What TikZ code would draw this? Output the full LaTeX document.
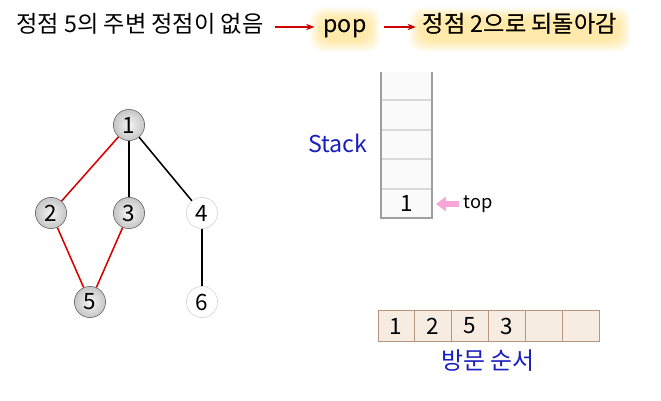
\documentclass[tikz,border=0pt]{standalone}
\usepackage{fontspec}
\setmainfont{Noto Sans CJK KR}
\usepackage{xcolor}
\usetikzlibrary{shapes, arrows.meta, positioning, calc}
\definecolor{lblblue}{RGB}{25,30,190}
\definecolor{boxfill}{RGB}{246,236,226}
\definecolor{boxline}{RGB}{180,150,125}
\definecolor{glow}{RGB}{255,200,40}

\begin{document}
\begin{tikzpicture}[x=0.025cm, y=-0.025cm,
  txt/.style={font=\fontsize{16.5}{19}\selectfont, inner sep=2pt, text height=12pt, text depth=4pt},
  vtx/.style={circle, draw=gray!75!black, inner color=gray!8, outer color=gray!45, minimum size=0.78cm, inner sep=0pt, font=\fontsize{16}{16}\selectfont},
  newvtx/.style={vtx, draw=gray!35, inner color=white, outer color=white},
  redline/.style={red!85!black, line width=1.1pt},
  blackline/.style={black, line width=1.1pt},
  ordbox/.style={draw=boxline, fill=boxfill, minimum width=0.91cm, minimum height=0.78cm, inner sep=0pt, font=\fontsize{16}{16}\selectfont}
]
\useasboundingbox (0,0) rectangle (661,400);

% Header line
\node[txt] (msg) at (140,27) {정점 5의 주변 정점이 없음};
\node[txt] (pop) at (345,27) {pop};
\node[txt] (back) at (520,27) {정점 2으로 되돌아감};
\foreach \n in {pop, back} {
  \foreach \d in {0,2,4,6,8,10} {
    \fill[glow, opacity=0.08, rounded corners=8pt] ($(\n.south west)+(-\d,\d)$) rectangle ($(\n.north east)+(\d,-\d+5)$);
  }
}
\node[txt] at (pop) {pop};
\node[txt] at (back) {정점 2으로 되돌아감};
\draw[-{Stealth[length=6pt]}, red!80!black, line width=0.9pt] ($(msg.east)+(8,0)$) -- ($(pop.west)+(-6,0)$);
\draw[-{Stealth[length=6pt]}, red!80!black, line width=0.9pt] ($(pop.east)+(14,0)$) -- ($(back.west)+(-4,0)$);

% Graph
\node[vtx] (v1) at (129,125) {1};
\node[vtx] (v2) at (51,213) {2};
\node[vtx] (v3) at (129,213) {3};
\node[newvtx] (v4) at (202,213) {4};
\node[vtx] (v5) at (90,302) {5};
\node[newvtx] (v6) at (202,302) {6};
\draw[redline] (v1) -- (v2);
\draw[blackline] (v1) -- (v3);
\draw[blackline] (v1) -- (v4);
\draw[redline] (v2) -- (v5);
\draw[redline] (v3) -- (v5);
\draw[blackline] (v4) -- (v6);

% Stack
\fill[gray!4] (381,72) rectangle (432,218);
\foreach \y in {100,130,159,189} {
  \draw[gray!30, line width=0.8pt] (381,\y) -- (432,\y);
}
\draw[gray!75, line width=1.2pt] (381,72) -- (381,218) -- (432,218) -- (432,72);
\node[font=\fontsize{16}{16}\selectfont] (s1) at (406.5,203.5) {1};
\node[font=\fontsize{16.5}{19}\selectfont, text=lblblue] (stacklbl) at (338,143) {Stack};
\node[font=\fontsize{13}{15}\selectfont] (toplbl) at (478,204) {top};
\draw[-{Triangle[length=7pt, width=10pt]}, magenta!35, line width=4pt] (toplbl.west) -- (436,204);

% Visit order
\node[ordbox] (o1) at (396,326) {1};
\node[ordbox, right=0pt of o1] (o2) {2};
\node[ordbox, right=0pt of o2] (o3) {5};
\node[ordbox, right=0pt of o3] (o4) {3};
\node[ordbox, right=0pt of o4] (o5) {};
\node[ordbox, right=0pt of o5] (o6) {};
\node[font=\fontsize{17}{19}\selectfont, text=lblblue] (ordlbl) at (488,361) {방문 순서};
\end{tikzpicture}
\end{document}
